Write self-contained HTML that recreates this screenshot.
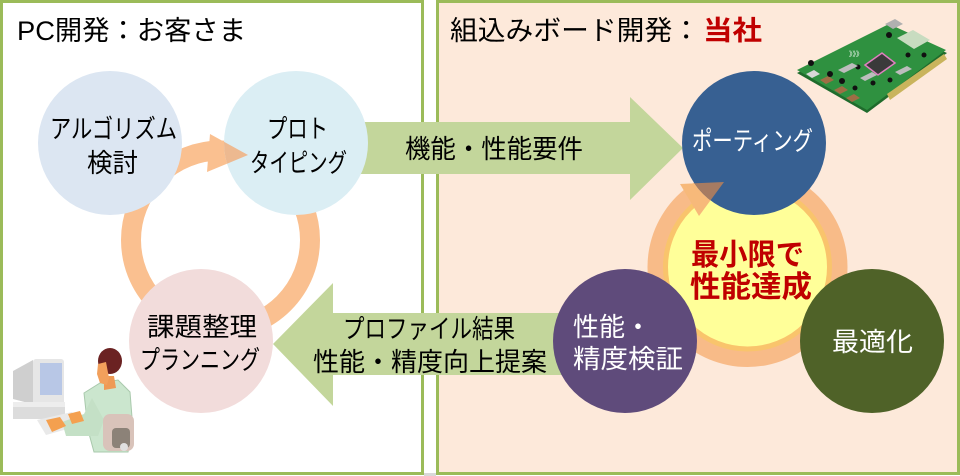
<!DOCTYPE html>
<html><head><meta charset="utf-8">
<style>
html,body{margin:0;padding:0;background:#fff;}
svg{display:block;}
text{font-family:"Liberation Sans","Noto Sans CJK JP",sans-serif;}
</style></head>
<body>
<svg width="960" height="476" viewBox="0 0 960 476" xmlns="http://www.w3.org/2000/svg">
<defs>
<clipPath id="cProto"><circle cx="296" cy="143" r="72"/></clipPath>
<clipPath id="cPort"><circle cx="754" cy="143" r="72"/></clipPath>
</defs>
<!-- panels -->
<rect x="0" y="0" width="960" height="476" fill="#fff"/>
<rect x="1.5" y="1.5" width="421" height="472" fill="#fff" stroke="#9BBB59" stroke-width="3"/>
<rect x="437.5" y="1.5" width="521" height="472" fill="#FDE9DA" stroke="#9BBB59" stroke-width="3"/>
<rect x="424" y="473" width="12" height="3" fill="#D9D9D9"/>

<!-- titles -->
<text x="17" y="40" font-size="27" fill="#000" textLength="229" lengthAdjust="spacingAndGlyphs">PC開発：お客さま</text>
<text x="450" y="40" font-size="27" fill="#000" textLength="250" lengthAdjust="spacingAndGlyphs">組込みボード開発：</text>
<text x="703" y="40" font-size="27" font-weight="bold" fill="#C00000" textLength="59" lengthAdjust="spacingAndGlyphs">当社</text>

<!-- left orange ring -->
<circle cx="220.5" cy="240" r="89.5" fill="none" stroke="#FAC090" stroke-width="20"/>
<polygon points="210,134 207,172 248,155" fill="#FAC090"/>

<!-- right ring + yellow -->
<circle cx="747.5" cy="267" r="100" fill="#F8BB88"/>
<circle cx="747.5" cy="267" r="82" fill="#FFFF99" stroke="#F9C46C" stroke-width="5"/>
<polygon points="680,184 724,182 699,216" fill="#F7B97A"/>

<!-- green arrows -->
<polygon points="330,122 630,122 630,97 683,148 630,200 630,174 330,174" fill="#C3D69B"/>
<polygon points="273,344 333,283 333,313 590,313 590,375 333,375 333,406" fill="#C3D69B"/>

<!-- left circles -->
<circle cx="110" cy="143" r="72" fill="#DCE6F2"/>
<circle cx="296" cy="143" r="72" fill="#DBEEF4"/>
<polygon points="210,134 207,172 248,155" fill="#EDB990" clip-path="url(#cProto)"/>
<circle cx="201" cy="341" r="72" fill="#F2DCDB"/>

<!-- right circles -->
<circle cx="754" cy="143" r="72" fill="#376092"/>
<polygon points="680,184 724,182 699,216" fill="#A67B62" clip-path="url(#cPort)"/>
<circle cx="625" cy="341" r="72" fill="#5F4B7B"/>
<circle cx="872" cy="341" r="72" fill="#4F6228"/>

<!-- circle texts -->
<g font-size="26" fill="#000">
<text x="50" y="138" textLength="127" lengthAdjust="spacingAndGlyphs">アルゴリズム</text>
<text x="87" y="172" textLength="51" lengthAdjust="spacingAndGlyphs">検討</text>
<text x="267" y="138" textLength="61" lengthAdjust="spacingAndGlyphs">プロト</text>
<text x="250" y="172" textLength="97" lengthAdjust="spacingAndGlyphs">タイピング</text>
<text x="405" y="158" textLength="178" lengthAdjust="spacingAndGlyphs">機能・性能要件</text>
<text x="147" y="336" textLength="110" lengthAdjust="spacingAndGlyphs">課題整理</text>
<text x="140" y="369" textLength="120" lengthAdjust="spacingAndGlyphs">プランニング</text>
<text x="343" y="338" textLength="172" lengthAdjust="spacingAndGlyphs">プロファイル結果</text>
<text x="313" y="371" textLength="234" lengthAdjust="spacingAndGlyphs">性能・精度向上提案</text>
</g>
<g font-size="26" fill="#fff">
<text x="692" y="150" textLength="121" lengthAdjust="spacingAndGlyphs">ポーティング</text>
<text x="573" y="336" textLength="78" lengthAdjust="spacingAndGlyphs">性能・</text>
<text x="573" y="368" textLength="110" lengthAdjust="spacingAndGlyphs">精度検証</text>
<text x="832" y="351" textLength="81" lengthAdjust="spacingAndGlyphs">最適化</text>
</g>
<g font-size="30" font-weight="bold" fill="#C00000">
<text x="691" y="265" textLength="113" lengthAdjust="spacingAndGlyphs">最小限で</text>
<text x="690" y="297" textLength="122" lengthAdjust="spacingAndGlyphs">性能達成</text>
</g>

<!-- PCB board -->
<g>
<polygon points="797,73 889,27 947,53 867,113" fill="#1F6B2C"/>
<polygon points="797,70 889,24 946,50 867,110" fill="#2F9140"/>
<polygon points="887,94 944,54 947,59 890,100" fill="#C9B45C"/>
<polygon points="865,65 882,53 895,63 878,75" fill="#3A3A3A" stroke="#E07FC0" stroke-width="1.5"/>
<polygon points="897,38 913,30 930,40 914,49" fill="#C8DCC0"/>
<polygon points="885,24 895,19 903,24 893,29" fill="#B0B0B0"/>
<polygon points="806,74 814,70 820,74 812,78" fill="#D8D8D8"/>
<g fill="#9E6E45">
<polygon points="820,80 828,76 834,80 826,84"/>
<polygon points="834,90 842,86 848,90 840,94"/>
<polygon points="846,98 854,94 860,98 852,102"/>
</g>
<g fill="#111">
<circle cx="811" cy="63" r="3"/>
<circle cx="830" cy="74" r="3"/>
<circle cx="842" cy="81" r="3"/>
<circle cx="855" cy="88" r="2.5"/>
<circle cx="889" cy="35" r="3"/>
<circle cx="858" cy="67" r="2.5"/>
<circle cx="908" cy="55" r="2.5"/>
<circle cx="924" cy="55" r="2.5"/>
<circle cx="873" cy="83" r="2.5"/>
<circle cx="890" cy="80" r="2.5"/>
</g>
<g fill="#BDBDBD">
<polygon points="838,70 852,63 858,66 844,73"/>
<polygon points="860,78 872,72 877,75 865,81"/>
<polygon points="895,72 907,66 912,69 900,75"/>
</g>
<text x="849" y="56" font-size="7" fill="#fff">》》》</text>
</g>

<!-- person clipart -->
<g>
<polygon points="13,371 33,360 36,405 13,399" fill="#CFCFCF"/>
<rect x="33" y="359" width="31" height="48" rx="3" fill="#E6E6E6"/>
<rect x="40" y="363" width="22" height="32" fill="#B8C7E6"/>
<rect x="13" y="402" width="52" height="17" fill="#DCDCDC"/>
<rect x="13" y="402" width="52" height="5" fill="#EDEDED"/>
<polygon points="37,420 72,412 82,425 46,435" fill="#E9E9E9"/>
<polygon points="84,393 100,383 118,380 130,392 133,430 128,452 94,452 88,430" fill="#CBE6CE" stroke="#A9C9AC" stroke-width="1"/>
<polygon points="62,422 84,414 92,398 104,420 98,436 66,436" fill="#C4E0C6"/>
<polygon points="46,420 60,417 66,426 52,432" fill="#F4A04F"/>
<polygon points="68,414 80,411 84,421 72,424" fill="#F4A04F"/>
<polygon points="104,376 114,376 116,388 104,390" fill="#EE9A55"/>
<ellipse cx="110" cy="361" rx="12" ry="13" fill="#6B2222"/>
<polygon points="98,364 106,362 109,378 107,385 100,383 97,374" fill="#F2A05C"/>
<rect x="103" y="414" width="31" height="37" rx="7" fill="#D9C3BA"/>
<rect x="112" y="428" width="18" height="20" rx="4" fill="#8C8278"/>
<circle cx="124" cy="447" r="4" fill="#E0E0E0"/>
</g>
</svg>
</body></html>
